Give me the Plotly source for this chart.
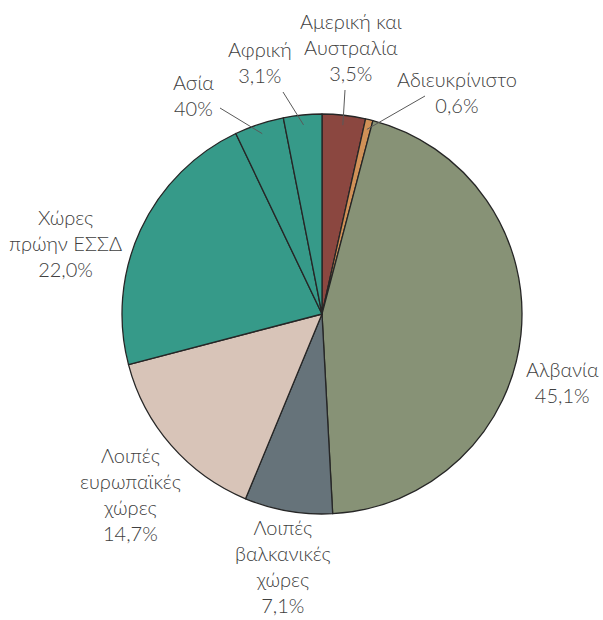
import math
import plotly.graph_objects as go

categories = ["Αμερική και Αυστραλία", "Αδιευκρίνιστο", "Αλβανία", "Λοιπές βαλκανικές χώρες",
              "Λοιπές ευρωπαϊκές χώρες", "Χώρες πρώην ΕΣΣΔ", "Ασία", "Αφρική"]
values = [3.5, 0.6, 45.1, 7.1, 14.7, 22.0, 4.0, 3.1]
label_texts = ["Αμερική και<br>Αυστραλία<br>3,5%", "Αδιευκρίνιστο<br>0,6%", "Αλβανία<br>45,1%",
               "Λοιπές<br>βαλκανικές<br>χώρες<br>7,1%", "Λοιπές<br>ευρωπαϊκές<br>χώρες<br>14,7%",
               "Χώρες<br>πρώην ΕΣΣΔ<br>22,0%", "Ασία<br>40%", "Αφρική<br>3,1%"]
colors = ["#8B4740", "#D09157", "#879276", "#66737A", "#D8C4B8", "#369A89", "#369A89", "#369A89"]

W, H = 603, 620
cx, cy, R = 322, 314, 200
# label centre positions (pixels) and whether a leader line is drawn
label_pos = [(351, 47, True), (457, 92, True), (562, 382, False), (283, 566, False),
             (130, 494, False), (65, 243, False), (193, 95, True), (260, 62, True)]
label_anchor = [(345, 90), (425, 96), None, None, None, None, (220, 108), (283, 92)]

fig = go.Figure()
fig.add_trace(go.Pie(
    labels=categories, values=values, sort=False, direction="clockwise", rotation=0,
    marker=dict(colors=colors, line=dict(color="#262626", width=1.3)),
    textinfo="none", hoverinfo="label+percent", showlegend=False,
    domain=dict(x=[(cx - R) / W, (cx + R) / W], y=[1 - (cy + R) / H, 1 - (cy - R) / H]),
))

# invisible pixel axes for leader lines
fig.add_trace(go.Scatter(x=[0, W], y=[0, H], mode="markers", marker=dict(opacity=0), showlegend=False, hoverinfo="skip"))
fig.update_xaxes(range=[0, W], visible=False, fixedrange=True)
fig.update_yaxes(range=[H, 0], visible=False, fixedrange=True)

font = dict(family="Lato", size=20, color="#404040", weight=300)
total = sum(values)
cum = 0
for i, v in enumerate(values):
    mid = (cum + v / 2) / total * 2 * math.pi
    cum += v
    lx, ly, line = label_pos[i]
    fig.add_annotation(x=lx, y=ly, xref="x", yref="y", text=label_texts[i], showarrow=False,
                       font=font, align="center")
    if line:
        tx = cx + 0.95 * R * math.sin(mid)
        ty = cy - 0.95 * R * math.cos(mid)
        ax, ay = label_anchor[i]
        fig.add_shape(type="line", x0=ax, y0=ay, x1=tx, y1=ty, xref="x", yref="y",
                      line=dict(color="#595959", width=1))

fig.update_layout(width=W, height=H, margin=dict(l=0, r=0, t=0, b=0),
                  paper_bgcolor="white", plot_bgcolor="rgba(0,0,0,0)")
fig.write_html("out.html", config={"displayModeBar": False},
               post_script="document.body.style.margin='0px';")
